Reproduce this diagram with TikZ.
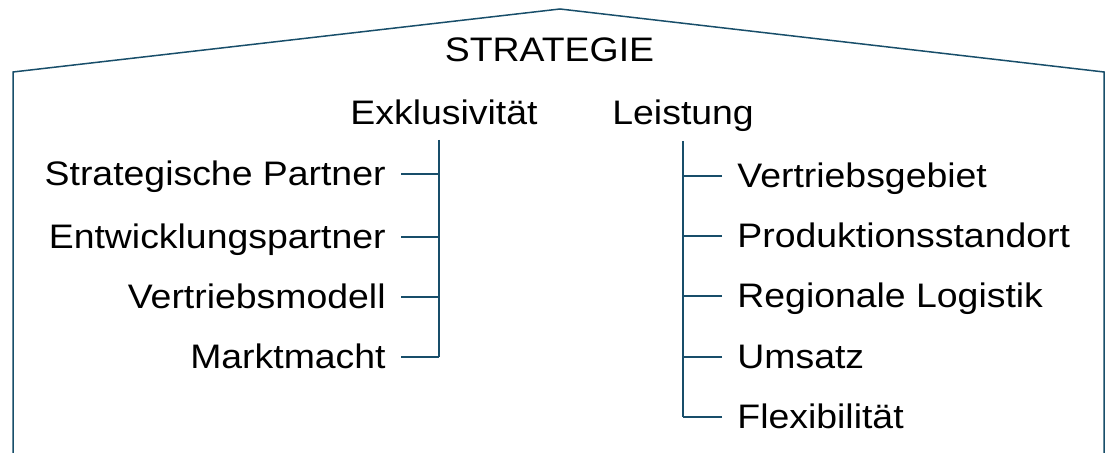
\documentclass[tikz,border=0pt]{standalone}
\usepackage{fontspec}
\setmainfont[FakeStretch=1.1]{Liberation Sans}
\usepackage{xcolor}
\definecolor{roofblue}{RGB}{24,78,106}
\usepackage{tikz}
\usetikzlibrary{positioning,calc}

\tikzset{
  rule/.style={draw=roofblue, line width=.75pt},
  label/.style={inner sep=0pt, text height=11.5pt, text depth=0pt, font=\fontsize{17}{20}\selectfont},
  lefthand/.style={label, anchor=east},
  righthand/.style={label, anchor=west}
}

\begin{document}
\begin{tikzpicture}[x=.5pt, y=-.5pt]
\useasboundingbox (0,0) rectangle (1107,453);

%%% house outline
\coordinate (eaveL) at (13,72);
\coordinate (apex) at (560,9);
\coordinate (eaveR) at (1104,72);
\draw[rule, line join=miter] (13,453) -- (eaveL) -- (apex) -- (eaveR) -- (1104,453);

\node[label] (strat) at (549.5,50) {STRATEGIE};

\node[righthand] (exkl) at (350,113) {Exklusivität};
\node[righthand] (leist) at (612,113) {Leistung};

% left column
\node[lefthand] (sp) at (386,174) {Strategische Partner};
\node[lefthand] (ep) at (386,237) {Entwicklungspartner};
\node[lefthand] (vm) at (386,297) {Vertriebsmodell};
\node[lefthand] (mm) at (386,357) {Marktmacht};

% right column
\node[righthand] (vg) at (737,176) {Vertriebsgebiet};
\node[righthand] (ps) at (737,236) {Produktionsstandort};
\node[righthand] (rl) at (737,296) {Regionale Logistik};
\node[righthand] (um) at (737,357) {Umsatz};
\node[righthand] (fx) at (737,417) {Flexibilität};

\coordinate (exTop) at (439,140);
\coordinate (leTop) at (683,141);

\draw[rule] (exTop) -- (exTop |- mm.east);
\foreach \n in {sp,ep,vm,mm}
  \draw[rule] ([xshift=7.5pt]\n.east) -- (\n -| exTop);

\draw[rule] (leTop) -- (leTop |- fx.west);
\foreach \n in {vg,ps,rl,um,fx}
  \draw[rule] ([xshift=-7.5pt]\n.west) -- (\n -| leTop);

\end{tikzpicture}
\end{document}
